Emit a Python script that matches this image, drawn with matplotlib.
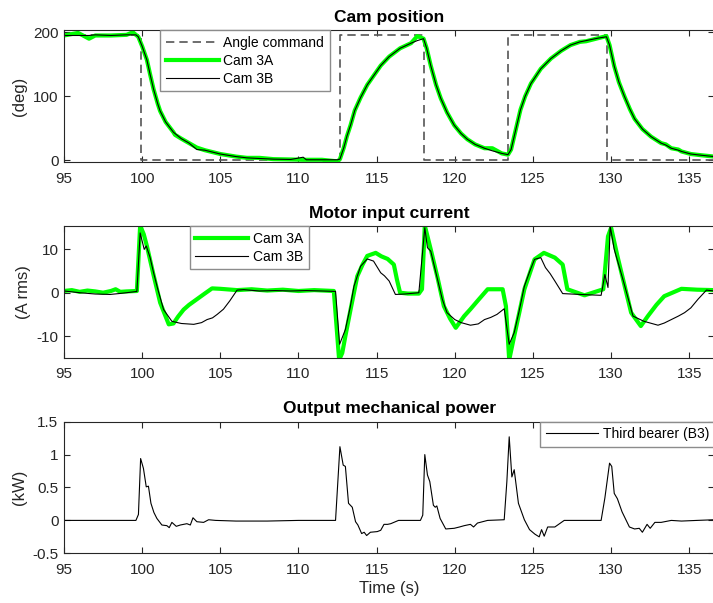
import matplotlib
matplotlib.use("Agg")
import matplotlib.pyplot as plt
from matplotlib.ticker import FormatStrFormatter

plt.rcParams['font.family'] = ['Liberation Sans', 'DejaVu Sans']

# ---- data ----
cmd_t = [95.0, 99.9, 99.9, 112.65, 112.65, 118.05, 118.05, 123.4, 123.4, 129.75, 129.75, 136.6]
cmd_deg = [196, 196, 1, 1, 196, 196, 1, 1, 196, 196, 1, 1]

pos_t = [95.0, 95.9, 96.6, 97.0, 98.0, 99.0, 99.4, 99.6, 99.75, 100.0, 100.3, 100.5,
         100.73, 101.0, 101.15, 101.5, 102.0, 102.1, 102.5, 103.0, 103.5, 104.0, 104.5,
         105.0, 105.5, 106.0, 106.7, 107.5, 108.4, 109.5, 110.3, 110.5, 111.5, 112.5,
         112.65, 112.9, 113.1, 113.33, 113.6, 113.97, 114.4, 114.83, 115.26, 115.8,
         116.5, 117.2, 117.6, 118.0, 118.2, 118.46, 118.8, 119.1, 119.5, 119.96, 120.4,
         120.8, 121.3, 121.9, 122.4, 123.0, 123.4, 123.6, 123.9, 124.2, 124.5, 124.87,
         125.5, 126.15, 126.8, 127.4, 128.0, 128.4, 129.2, 129.7, 129.9, 130.2, 130.5,
         130.85, 131.2, 131.5, 132.0, 132.56, 133.2, 133.5, 133.85, 134.3, 134.5, 135.1,
         135.8, 136.6]
cam3b_deg = [195, 195, 195, 196, 195, 196, 196, 196, 193, 178, 157, 135,
             111, 88, 77, 60, 44, 42, 34, 27, 17, 16, 13,
             10, 8, 6, 4, 3, 2, 1.5, 5, 1, 1, 1,
             2, 20, 38, 55, 78, 98, 118, 133, 148, 162,
             175, 183, 187, 190, 175, 148, 118, 97, 75, 55, 42,
             33, 25, 19, 15, 11, 9, 17, 48, 79, 100, 120,
             143, 159, 171, 180, 185, 187, 191, 193, 180, 147, 122,
             100, 80, 65, 49, 37, 27, 24, 19, 16, 14, 10,
             8, 6]
cam3a_deg = [195, 199, 190, 195, 195, 196, 200, 196, 193, 178, 157, 135,
             111, 88, 77, 60, 44, 40, 34, 27, 20, 16, 13,
             10, 8, 6, 4, 4, 2, 1.5, 1, 1, 1, -1.5,
             2, 20, 38, 55, 78, 98, 118, 133, 148, 162,
             175, 183, 194, 190, 175, 148, 118, 97, 75, 55, 42,
             33, 25, 19, 19, 11, 9, 17, 48, 79, 100, 120,
             143, 159, 171, 180, 185, 186, 191, 194, 180, 147, 122,
             100, 80, 65, 49, 37, 27, 25, 19, 17, 14, 10,
             8, 6]

cur3a_t = [95.0, 95.5, 96.0, 96.5, 97.0, 97.5, 98.0, 98.3, 98.6, 99.0, 99.66, 99.87,
           100.1, 100.3, 100.7, 101.15, 101.7, 102.0, 102.3, 102.65, 103.0, 103.5, 104.0,
           104.47, 105.0, 106.07, 107.0, 108.0, 109.0, 110.0, 111.0, 112.26, 112.6, 112.8,
           113.0, 113.33, 113.76, 114.1, 114.4, 114.94, 115.3, 115.7, 116.1, 116.3, 116.5,
           117.0, 117.7, 117.9, 118.08, 118.46, 118.9, 119.3, 119.7, 120.06, 120.6, 121.0,
           121.45, 122.1, 123.06, 123.27, 123.48, 123.8, 124.45, 125.1, 125.7, 126.4, 126.9,
           127.2, 128.3, 129.5, 129.8, 130.0, 130.4, 130.85, 131.28, 131.9, 132.35, 132.9,
           133.4, 134.5, 135.5, 136.6]
cur3a_arms = [0.4, 0.6, 0.2, 0.5, 0.3, 0.0, 0.4, 0.8, 0.2, 0.3, 0.4, 15.5,
              13.5, 10.8, 4.5, -2.3, -7.3, -7.1, -5.5, -3.9, -2.8, -1.5, -0.2,
              1.0, 0.9, 0.6, 0.8, 0.5, 0.7, 0.4, 0.6, 0.4, -15.5, -13.9,
              -10, -3.9, 3.8, 6.5, 8.5, 9.2, 8.4, 7.8, 6.5, 3, 0,
              -0.2, -0.2, 0.8, 15.5, 10, 3.4, -3.1, -6.0, -8.1, -5.4, -3.8,
              -1.9, 0.8, 0.8, -3.1, -15.5, -10, 0.8, 7.7, 9.2, 8.1, 6.5,
              0.8, -0.6, 0.8, 13, 15, 8.5, 1.8, -4.6, -7.7, -5.4, -2.8,
              -0.8, 0.9, 0.7, 0.6]

cur3b_t = [95.0, 96.0, 97.0, 97.95, 98.5, 99.0, 99.66, 99.87, 100.13, 100.26, 100.5,
           100.73, 101.0, 101.37, 101.9, 102.5, 103.3, 103.8, 104.15, 104.5, 104.8, 105.2,
           105.6, 106.07, 106.5, 107.5, 108.5, 109.5, 110.5, 111.5, 112.37, 112.63, 113.0,
           113.3, 113.55, 113.97, 114.4, 114.8, 115.26, 115.5, 115.8, 116.2, 116.8, 117.7,
           118.08, 118.25, 118.46, 118.8, 119.2, 119.5, 120.0, 120.4, 121.0, 121.5, 121.9,
           122.3, 122.7, 123.16, 123.48, 123.8, 124.1, 124.45, 124.8, 125.1, 125.5, 125.8,
           126.1, 126.4, 126.9, 128.0, 129.36, 129.6, 129.8, 129.94, 130.2, 130.8, 131.4,
           132.1, 133.0, 133.4, 133.85, 134.3, 134.7, 135.1, 135.56, 136.1, 136.6]
cur3b_arms = [0.4, 0.0, -0.3, -0.4, -0.2, 0.0, 0.3, 13.8, 10, 10.8, 8.2,
              4.6, 0.8, -3.9, -6.6, -7.1, -7.3, -6.9, -6.2, -5.8, -5.0, -3.8,
              -1.9, 0.6, 0.7, 0.4, 0.5, 0.4, 0.5, 0.4, 0.3, -11.9, -8.5,
              -3.5, 1.5, 6.1, 7.8, 7.3, 4.6, 3.9, 2.7, -0.4, -0.3, 0.0,
              15.0, 10.4, 9.6, 4.5, -1.5, -4.6, -6.2, -6.9, -7.5, -7.2, -6.2,
              -5.7, -5.0, -3.7, -11.9, -9.2, -4.5, 1.5, 5.0, 7.7, 8.1, 5.8,
              4.4, 2.7, -0.2, -0.4, -0.6, 4.2, 1.2, 15.4, 10, 2.5, -5.4,
              -6.6, -7.5, -7.0, -6.2, -5.4, -4.6, -3.5, -1.5, 0.6, 0.4]

pw_t = [95.0, 99.6, 99.76, 99.9, 100.08, 100.26, 100.4, 100.56, 100.75, 100.94, 101.26,
        101.58, 101.73, 101.9, 102.18, 102.44, 102.86, 103.08, 103.25, 103.5, 103.93,
        104.25, 104.7, 106.0, 108.0, 110.0, 112.37, 112.65, 112.86, 113.0, 113.2, 113.44,
        113.65, 113.8, 114.04, 114.2, 114.36, 114.6, 115.04, 115.26, 115.47, 115.7, 115.9,
        116.4, 117.8, 117.95, 118.08, 118.25, 118.4, 118.63, 118.75, 118.85, 119.06,
        119.42, 119.96, 120.3, 120.6, 121.0, 121.2, 121.45, 122.1, 123.16, 123.33, 123.48,
        123.65, 123.8, 124.07, 124.45, 124.78, 125.13, 125.4, 125.55, 125.72, 125.94,
        126.4, 126.7, 127.0, 129.36, 129.6, 129.9, 130.04, 130.2, 130.4, 130.7, 131.17,
        131.5, 131.8, 132.0, 132.3, 132.5, 132.8, 133.2, 133.85, 134.5, 135.5, 136.6]
b3_kw = [0, 0, 0.09, 0.94, 0.79, 0.51, 0.52, 0.26, 0.12, 0.03, -0.07,
         -0.08, -0.11, -0.03, -0.09, -0.07, -0.05, -0.07, 0.04, -0.02, -0.03,
         0.01, 0.0, -0.01, -0.01, 0.0, 0.0, 1.12, 0.84, 0.82, 0.26, 0.2,
         -0.02, -0.07, -0.2, -0.18, -0.23, -0.18, -0.17, -0.15, -0.06, -0.06, -0.05,
         0.0, 0.0, 0.08, 1.0, 0.69, 0.59, 0.23, 0.2, 0.22, 0.03,
         -0.13, -0.12, -0.1, -0.08, -0.06, -0.1, -0.04, 0.0, 0.01, 0.59, 1.27,
         0.66, 0.77, 0.26, 0.01, -0.14, -0.21, -0.25, -0.14, -0.24, -0.1,
         -0.1, -0.05, 0.0, 0.0, 0.34, 0.87, 0.82, 0.41, 0.33, 0.13, -0.1,
         -0.13, -0.12, -0.18, -0.06, -0.12, -0.03, -0.03, 0.0, -0.01, 0.0, 0.01]

# ---- figure ----
DARK = '#262626'
GREEN = '#00ff00'
fig = plt.figure(figsize=(7.13, 6.03), dpi=100)

def style(ax, yticks, ylabel, title):
  ax.set_xlim(95, 136.6)
  ax.set_xticks(range(95, 136, 5))
  ax.set_yticks(yticks)
  ax.yaxis.set_major_formatter(FormatStrFormatter('%g'))
  ax.tick_params(direction='in', length=4.5, width=0.8, labelsize=11, colors=DARK,
                 top=True, right=True, pad=4)
  ax.tick_params(axis='x', pad=7)
  for s in ax.spines.values():
    s.set_color(DARK)
    s.set_linewidth(0.8)
  ax.set_ylabel(ylabel, fontsize=12, color=DARK)
  ax.set_title(title, fontsize=12.5, fontweight='bold', pad=6)

def legend(ax, x0):
  return ax.legend(loc='upper left', bbox_to_anchor=(x0, 1.0), borderaxespad=0,
                   fontsize=10, handlelength=3.8, handletextpad=0.35, labelspacing=0.3,
                   borderpad=0.4, fancybox=False, framealpha=1, edgecolor='#8c8c8c')

ax1 = fig.add_axes([0.0898, 0.7313, 0.912, 0.219])
ax1.plot(cmd_t, cmd_deg, color='#555555', lw=1.2, ls=(0, (5, 3)), label='Angle command')
ax1.plot(pos_t, cam3a_deg, color=GREEN, lw=3, label='Cam 3A')
ax1.plot(pos_t, cam3b_deg, color='k', lw=0.8, label='Cam 3B')
ax1.set_ylim(-2.5, 203.6)
style(ax1, [0, 100, 200], '(deg)', 'Cam position')
legend(ax1, 0.148)

ax2 = fig.add_axes([0.0898, 0.4068, 0.912, 0.2184])
ax2.plot(cur3a_t, cur3a_arms, color=GREEN, lw=3, label='Cam 3A')
ax2.plot(cur3b_t, cur3b_arms, color='k', lw=0.8, label='Cam 3B')
ax2.set_ylim(-15, 15.4)
style(ax2, [-10, 0, 10], '(A rms)', 'Motor input current')
legend(ax2, 0.193)

ax3 = fig.add_axes([0.0898, 0.0824, 0.912, 0.2183])
ax3.plot(pw_t, b3_kw, color='k', lw=0.8, label='Third bearer (B3)')
ax3.set_ylim(-0.5, 1.5)
style(ax3, [-0.5, 0, 0.5, 1, 1.5], '(kW)', 'Output mechanical power')
ax3.set_xlabel('Time (s)', fontsize=12, color=DARK, labelpad=3)
legend(ax3, 0.732)

fig.savefig('out.png', dpi=100)
